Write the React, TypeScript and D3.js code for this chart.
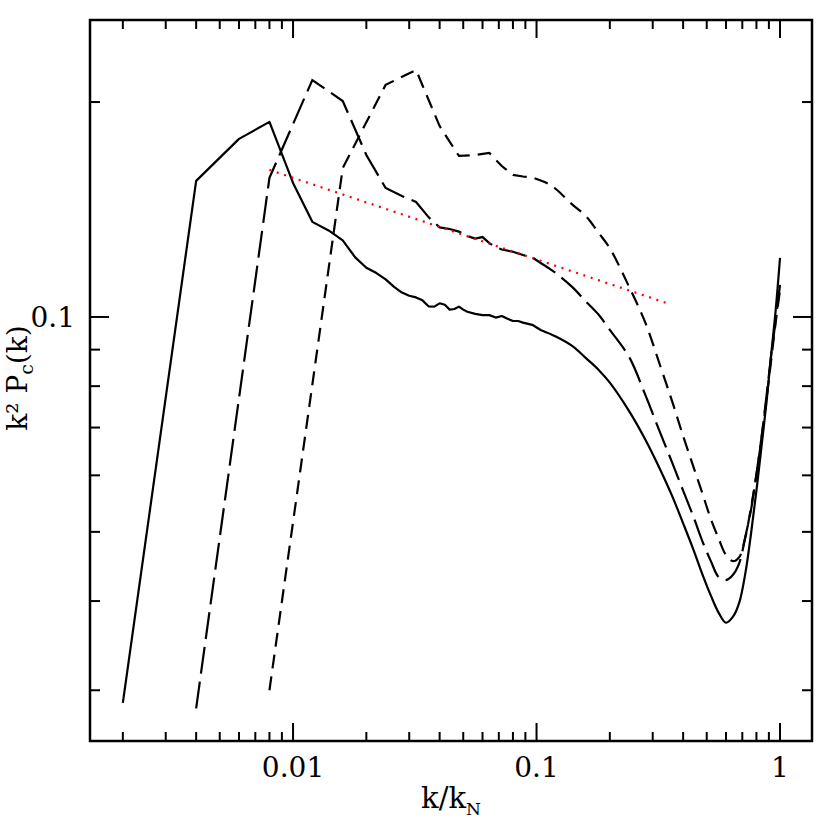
import React from 'react';
import * as d3 from 'd3';

// axis limits (k/k_N and k^2 P_c(k))
const xDomain = [0.001466, 1.353];
const yDomain = [0.02547, 0.2606];

// labelled tick values
const xLabelTicks = [0.01, 0.1, 1];
const xLabelTexts = ['0.01', '0.1', '1'];
const yLabelTicks = [0.1];
const yLabelTexts = ['0.1'];

// solid curve
const solidK = [0.002,0.004,0.006,0.008,0.010,0.012,0.014,0.016,0.018,0.020,0.022,0.024,0.026,0.028,0.030,0.032,0.034,0.036,0.038,0.040,0.042,0.044,0.046,0.048,0.050,0.052,0.056,0.060,0.064,0.068,0.072,0.076,0.080,0.084,0.088,0.096,0.104,0.12,0.14,0.16,0.18,0.20,0.24,0.28,0.32,0.36,0.40,0.44,0.48,0.52,0.56,0.60,0.64,0.68,0.72,0.76,0.80,0.84,0.88,0.92,0.96,1.00];
const solidP = [0.0288,0.1551,0.1776,0.1876,0.1541,0.1359,0.1322,0.1280,0.1212,0.1172,0.1152,0.1129,0.1102,0.1082,0.1071,0.1065,0.1055,0.1035,0.1034,0.1045,0.1040,0.1024,0.1026,0.1034,0.1024,0.1017,0.1010,0.1006,0.1006,0.0998,0.1003,0.0994,0.0987,0.0987,0.0982,0.0975,0.0959,0.0939,0.0911,0.0875,0.0843,0.0809,0.0738,0.0673,0.0614,0.0562,0.0514,0.0473,0.0436,0.0407,0.0385,0.0373,0.0380,0.0398,0.0437,0.0497,0.0571,0.0660,0.0760,0.0887,0.1023,0.1210];

// long-dashed curve
const longK = [0.004,0.008,0.012,0.016,0.020,0.024,0.028,0.032,0.036,0.040,0.044,0.048,0.052,0.056,0.060,0.064,0.068,0.072,0.080,0.088,0.096,0.104,0.112,0.12,0.14,0.16,0.18,0.20,0.24,0.28,0.32,0.36,0.40,0.44,0.48,0.52,0.56,0.60,0.64,0.68,0.72,0.76,0.80,0.84,0.88,0.92,0.96,1.00];
const longP = [0.0283,0.1566,0.2147,0.2007,0.1686,0.1516,0.1477,0.1449,0.1380,0.1335,0.1328,0.1317,0.1298,0.1288,0.1294,0.1269,0.1253,0.1243,0.1234,0.1221,0.1212,0.1190,0.1171,0.1152,0.1102,0.1050,0.1007,0.0959,0.0879,0.0777,0.0692,0.0626,0.0571,0.0526,0.0485,0.0455,0.0432,0.0428,0.0435,0.0452,0.0492,0.0537,0.0603,0.0680,0.0775,0.0885,0.0990,0.1109];

// short-dashed curve
const shortK = [0.008,0.016,0.024,0.032,0.040,0.048,0.056,0.064,0.072,0.080,0.088,0.096,0.104,0.112,0.12,0.14,0.16,0.18,0.20,0.24,0.28,0.32,0.36,0.40,0.44,0.48,0.52,0.56,0.60,0.64,0.68,0.72,0.76,0.80,0.84,0.88,0.92,0.96,1.00];
const shortP = [0.0300,0.1617,0.2114,0.2218,0.1851,0.1681,0.1686,0.1697,0.1627,0.1581,0.1573,0.1568,0.1553,0.1536,0.1511,0.1438,0.1383,0.1311,0.1248,0.1102,0.0981,0.0860,0.0763,0.0681,0.0618,0.0566,0.0521,0.0489,0.0464,0.0455,0.0461,0.0491,0.0541,0.0601,0.0678,0.0768,0.0871,0.0984,0.1091];

// red dotted power-law fit
const fitK = [0.008, 0.345];
const fitP = [0.1607, 0.1045];

const W = 830, H = 830;
const left = 90, right = 812, top = 20, bottom = 741;
const FONT = 'DejaVu Serif';

export default function App() {
  const x = d3.scaleLog().domain(xDomain).range([left, right]);
  const y = d3.scaleLog().domain(yDomain).range([bottom, top]);
  const zip = (a: number[], b: number[]) => a.map((v, i) => [v, b[i]] as [number, number]);
  const isMajor = (t: number) => Math.abs(Math.log10(t) - Math.round(Math.log10(t))) < 1e-6;

  // straight segments for the sparse low-k part, smooth curve for the densely sampled high-k part
  const mixed = (pts: [number, number][]) => {
    const s = pts.findIndex(p => p[0] >= 0.1);
    const lin = d3.line<[number, number]>().x(d => x(d[0])).y(d => y(d[1]));
    const smooth = d3.line<[number, number]>().x(d => x(d[0])).y(d => y(d[1])).curve(d3.curveCatmullRom.alpha(0.5));
    const a = lin(pts.slice(0, s + 1)) || '';
    const b = (smooth(pts.slice(s)) || '').replace(/^M/, 'L');
    return a + b;
  };
  const lin = d3.line<[number, number]>().x(d => x(d[0])).y(d => y(d[1]));

  const xt = x.ticks();
  const yt = y.ticks();
  const minorLen = 9, majorLen = 18;
  const axisW = 2.5;

  return (
    <svg width={W} height={H} style={{ position: 'absolute', left: 0, top: 0, background: '#fff' }}>
      <rect x={0} y={0} width={W} height={H} fill="#fff" />
      {/* curves */}
      <path d={mixed(zip(solidK, solidP))} fill="none" stroke="#000" strokeWidth={2.2} strokeLinejoin="round" />
      <path d={mixed(zip(longK, longP))} fill="none" stroke="#000" strokeWidth={2.2} strokeDasharray="27 8" />
      <path d={mixed(zip(shortK, shortP))} fill="none" stroke="#000" strokeWidth={2.2} strokeDasharray="14 8" />
      <path d={lin(zip(fitK, fitP)) || ''} fill="none" stroke="#ff0000" strokeWidth={2.2} strokeDasharray="2 5.7" />

      {/* frame */}
      <rect x={left} y={top} width={right - left} height={bottom - top} fill="none" stroke="#000" strokeWidth={axisW} />

      {/* x ticks bottom & top */}
      {xt.map((t, i) => {
        const len = isMajor(t) ? majorLen : minorLen;
        const px = x(t);
        return (
          <g key={'xt' + i}>
            <line x1={px} x2={px} y1={bottom} y2={bottom - len} stroke="#000" strokeWidth={2} />
            <line x1={px} x2={px} y1={top} y2={top + len} stroke="#000" strokeWidth={2} />
          </g>
        );
      })}
      {/* y ticks left & right */}
      {yt.map((t, i) => {
        const len = isMajor(t) ? majorLen + 1 : minorLen + 1;
        const py = y(t);
        return (
          <g key={'yt' + i}>
            <line x1={left} x2={left + len} y1={py} y2={py} stroke="#000" strokeWidth={2} />
            <line x1={right} x2={right - len} y1={py} y2={py} stroke="#000" strokeWidth={2} />
          </g>
        );
      })}

      {/* tick labels */}
      {xLabelTicks.map((t, i) => (
        <text key={'xl' + i} x={x(t)} y={777} textAnchor="middle" fontFamily={FONT} fontSize={28} fill="#000">
          {xLabelTexts[i]}
        </text>
      ))}
      {yLabelTicks.map((t, i) => (
        <text key={'yl' + i} x={75} y={y(t) + 10} textAnchor="end" fontFamily={FONT} fontSize={28} fill="#000">
          {yLabelTexts[i]}
        </text>
      ))}

      {/* axis titles */}
      <text x={(left + right) / 2} y={808} textAnchor="middle" fontFamily={FONT} fontSize={29} fill="#000">
        k/k<tspan fontSize={17} dy={7}>N</tspan>
      </text>
      <text transform={`translate(27, 378) rotate(-90)`} textAnchor="middle" fontFamily={FONT} fontSize={28} fill="#000">
        k² P<tspan fontSize={19} dy={6}>c</tspan><tspan dy={-6}>(k)</tspan>
      </text>
    </svg>
  );
}
